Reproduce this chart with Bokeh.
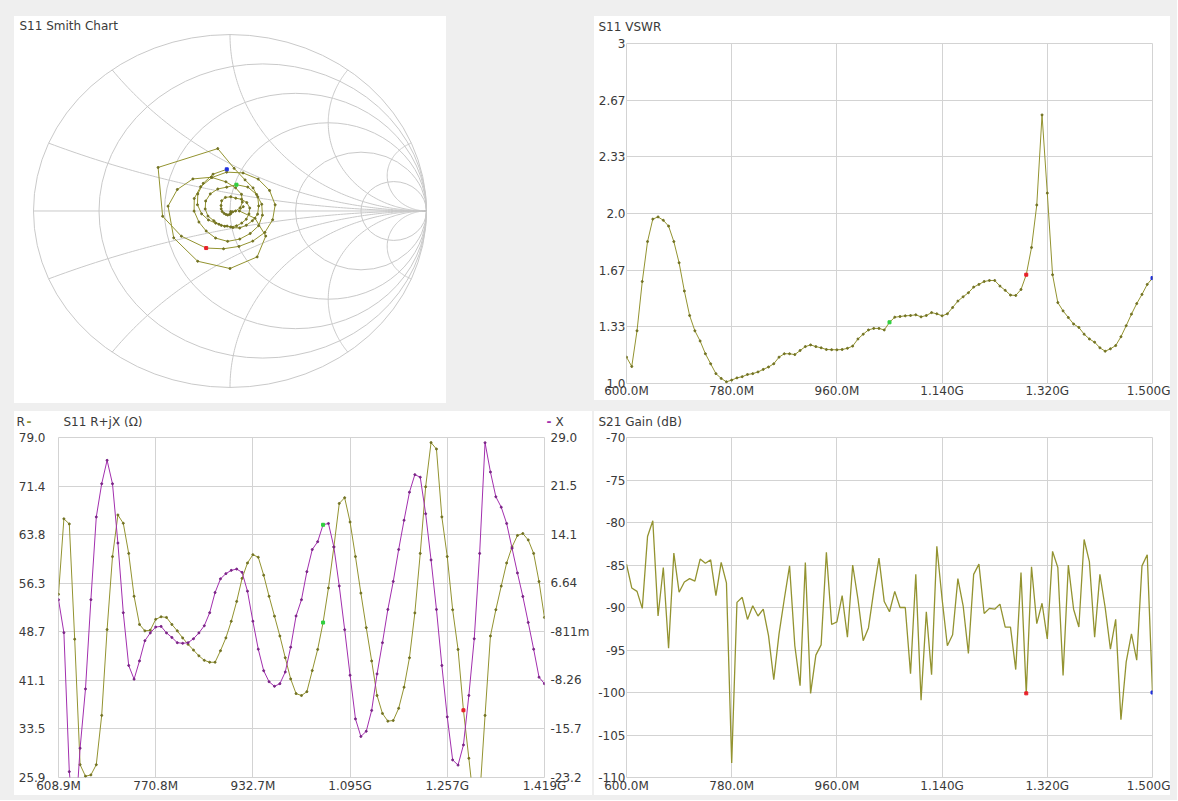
import numpy as np
from bokeh.plotting import figure
from bokeh.models import Range1d, LinearAxis, FixedTicker, Label, Spacer
from bokeh.layouts import row, column
from bokeh.embed import file_html
from bokeh.resources import INLINE

FONT = "DejaVu Sans"
TXT = "#3a3a3a"
GRID = "#d3d3d3"
SMITH_GRID = "#c9c9c9"
OLIVE = "#939330"
OLIVE_DOT = "#727222"
PURPLE = "#a22fae"
PURPLE_DOT = "#7a2486"
BG = "#efefef"
MARK_COLORS = {"red": "#e8202a", "green": "#30d040", "blue": "#2030e0"}

# ---------------- data ----------------
SWEEP_START_MHZ = 600.0
SWEEP_STEP_MHZ = 9.0

VSWR = [1.155, 1.10, 1.31, 1.60, 1.835, 1.967, 1.98, 1.96, 1.926, 1.835,
        1.71, 1.544, 1.40, 1.31, 1.25, 1.175, 1.116, 1.058, 1.03, 1.01,
        1.02, 1.033, 1.04, 1.053, 1.058, 1.068, 1.083, 1.097, 1.116, 1.155,
        1.175, 1.175, 1.17, 1.194, 1.217, 1.227, 1.217, 1.21, 1.20, 1.199,
        1.198, 1.20, 1.207, 1.22, 1.262, 1.29, 1.315, 1.324, 1.324, 1.315,
        1.36, 1.39, 1.394, 1.398, 1.40, 1.404, 1.392, 1.40, 1.417, 1.41,
        1.398, 1.41, 1.447, 1.485, 1.51, 1.534, 1.567, 1.583, 1.60, 1.606,
        1.606, 1.573, 1.548, 1.52, 1.518, 1.553, 1.64, 1.80, 2.05, 2.58,
        2.12, 1.64, 1.476, 1.427, 1.388, 1.35, 1.33, 1.29, 1.262, 1.243,
        1.21, 1.19, 1.204, 1.223, 1.275, 1.34, 1.408, 1.47, 1.524, 1.583,
        1.62]

S11_PHASE_DEG = [20, 0, -18, -38, -62, -90, -120, -152, 175,
                 155.5, 136.1, 116.6, 97.2, 77.7, 58.2, 38.8, 19.3, -0.1, -19.6,
                 -39.1, -58.5, -78, -97.5, -116.9, -136.4, -155.8, -175.3, 165.2, 145.8,
                 126.3, 106.8, 87.4, 67.9, 48.5, 29, 9.5, -9.9, -29.4, -48.8,
                 -68.3, -87.8, -107.2, -126.7, -146.2, -165.6, 174.9, 155.5, 136, 116.5,
                 97.1, 77.6,
                 56.2, 34.7, 13.3, -8.2, -29.7, -51.1, -72.6, -94, -115.5, -136.9,
                 -158.4, -179.8, 158.7, 137.3, 115.8, 94.4, 72.9, 51.5, 30, 8.6,
                 -12.9, -34.3, -55.8, -77.2, -98.7, -120,
                 -150, -175, 146, 100, 85,
                 66.5, 48.1, 29.6, 11.1, -7.4, -25.8, -44.3, -62.8, -81.2, -99.7,
                 -118.2, -136.6, -155.1, -173.6, 167.9, 149.5, 131, 112.5, 94]

S21_DB = [-84.9, -87.7, -88.1, -90.1, -81.65, -79.8, -91.0, -85.3, -94.8, -83.6,
          -88.2, -87.0, -86.6, -86.9, -84.3, -84.8, -84.4, -88.6, -84.7, -87.1,
          -108.3, -89.4, -88.8, -91.4, -89.8, -91.0, -90.2, -93.3, -98.5, -93.1,
          -89.0, -85.1, -94.5, -99.2, -84.7, -100.1, -95.6, -94.4, -83.5, -92.0,
          -91.7, -88.6, -93.5, -85.0, -89.0, -93.9, -92.4, -88.1, -84.2, -89.3,
          -90.5, -88.1, -90.0, -90.0, -97.8, -86.1, -100.9, -90.5, -97.9, -82.8,
          -89.0, -94.5, -93.2, -86.6, -89.8, -95.4, -86.1, -84.9, -90.7, -90.1,
          -90.2, -89.6, -92.3, -92.3, -97.3, -85.9, -100.1, -85.2, -91.9, -89.5,
          -93.7, -83.4, -85.3, -98.0, -85.0, -90.2, -92.3, -82.0, -84.6, -93.5,
          -86.1, -90.0, -94.9, -91.4, -103.2, -96.4, -93.1, -96.2, -85.1, -83.8,
          -100.0]

RJX_START_MHZ = 608.9
RJX_STEP_MHZ = 9.0
R_OHM = [54.5, 66.3, 65.5, 47.5, 27.9, 26.1, 26.3, 27.9, 35.6, 49.0,
         60.4, 66.9, 65.6, 60.9, 54.2, 49.8, 48.8, 48.9, 50.6, 51.0,
         50.9, 49.8, 48.8, 47.7, 46.7, 45.8, 44.9, 44.2, 43.9, 43.9,
         45.7, 47.7, 50.3, 53.4, 57.0, 59.4, 60.7, 60.3, 57.5, 54.2,
         51.1, 48.0, 44.6, 41.3, 39.0, 38.7, 39.3, 42.6, 45.9, 50.1,
         55.5, 61.9, 68.7, 69.6, 65.8, 60.4, 54.7, 49.3, 44.1, 38.7,
         35.9, 34.7, 34.8, 36.7, 40.0, 44.6, 51.6, 60.9, 71.3, 78.2,
         77.2, 66.6, 60.4, 52.1, 45.9, 36.4, 28.9, 21.2, 22.7, 35.6,
         48.0, 52.1, 55.8, 59.4, 61.9, 63.7, 64.0, 63.0, 60.9, 56.5,
         50.9]
X_OHM = [4.1, -0.96, -22.3, -31.4, -18.7, -9.6, 4.1, 16.8, 21.9, 25.5,
         21.9, 12.8, 2.1, -6.0, -8.1, -5.3, -2.2, -1.0, -0.1, 0.0,
         -1.0, -1.7, -2.5, -2.6, -2.5, -1.9, -1.0, 0.1, 2.1, 5.2,
         7.3, 8.1, 8.6, 8.8, 8.3, 5.4, 0.8, -3.5, -6.8, -8.5,
         -9.2, -8.8, -7.0, -3.2, 1.6, 4.1, 8.4, 11.8, 13.0, 15.6,
         15.8, 12.2, 6.2, -0.5, -7.5, -14.2, -16.9, -16.1, -12.9, -7.3,
         -2.5, 2.6, 6.9, 11.8, 16.3, 20.6, 23.3, 22.9, 17.3, 10.2,
         2.6, -6.0, -13.9, -20.5, -21.3, -18.2, -10.6, -1.9, 11.2, 28.2,
         23.7, 19.9, 18.3, 15.8, 12.0, 8.2, 4.6, 0.6, -3.5, -7.8,
         -8.8]

SWEEP_MARKERS = [("green", 50), ("red", 76), ("blue", 100)]
S21_MARKERS = [("red", 76), ("blue", 100)]
R_MARKERS = [("green", 49), ("red", 75)]
X_MARKERS = [("green", 49)]

SWEEP_TICKS = [600, 780, 960, 1140, 1320, 1500]
SWEEP_TICK_LABELS = ["600.0M", "780.0M", "960.0M", "1.140G", "1.320G", "1.500G"]
VSWR_TICKS = [1.0, 4 / 3, 5 / 3, 2.0, 7 / 3, 8 / 3, 3.0]
VSWR_TICK_LABELS = ["1.0", "1.33", "1.67", "2.0", "2.33", "2.67", "3"]
S21_TICKS = [-110, -105, -100, -95, -90, -85, -80, -75, -70]
S21_TICK_LABELS = ["-110", "-105", "-100", "-95", "-90", "-85", "-80", "-75", "-70"]
RJX_TICKS = [608.9, 770.92, 932.94, 1094.96, 1256.98, 1419.0]
RJX_TICK_LABELS = ["608.9M", "770.8M", "932.7M", "1.095G", "1.257G", "1.419G"]
R_TICKS = [25.9, 33.486, 41.071, 48.657, 56.243, 63.829, 71.414, 79.0]
R_TICK_LABELS = ["25.9", "33.5", "41.1", "48.7", "56.3", "63.8", "71.4", "79.0"]
X_TICKS = [-23.2, -15.743, -8.286, -0.829, 6.629, 14.086, 21.543, 29.0]
X_TICK_LABELS = ["-23.2", "-15.7", "-8.26", "-811m", "6.64", "14.1", "21.5", "29.0"]

SMITH_R = [0.0, 0.2, 0.5, 1.0, 2.0, 5.0]
SMITH_X = [0.2, 0.5, 1.0, 2.0, 5.0]


# ---------------- helpers ----------------
def style_axis(ax, standoff):
    ax.axis_line_color = None
    ax.major_tick_line_color = None
    ax.minor_tick_line_color = None
    ax.major_tick_out = 0
    ax.major_tick_in = 0
    ax.major_label_standoff = standoff
    ax.major_label_text_font = FONT
    ax.major_label_text_font_size = "12px"
    ax.major_label_text_color = TXT


def make_fig(w, h, xr, yr, ml, mr, mt, mb):
    p = figure(width=w, height=h, x_range=Range1d(*xr), y_range=Range1d(*yr),
               output_backend="svg", toolbar_location=None,
               min_border_left=ml, min_border_right=mr,
               min_border_top=mt, min_border_bottom=mb)
    p.background_fill_color = "white"
    p.border_fill_color = "white"
    p.outline_line_color = GRID
    p.xgrid.grid_line_color = GRID
    p.ygrid.grid_line_color = GRID
    return p


def bare_fig(w, h, xr, yr):
    p = figure(width=w, height=h, x_range=Range1d(*xr), y_range=Range1d(*yr),
               output_backend="svg", toolbar_location=None,
               x_axis_location=None, y_axis_location=None,
               min_border=0, min_border_left=0, min_border_right=0,
               min_border_top=0, min_border_bottom=0)
    p.grid.visible = False
    p.outline_line_color = None
    p.background_fill_color = "white"
    p.border_fill_color = "white"
    return p


def set_ticks(ax, ticks, labels):
    ax.ticker = FixedTicker(ticks=list(ticks))
    ax.major_label_overrides = {t: l for t, l in zip(ticks, labels)}


def add_text(p, x, y, text, color=TXT, weight="normal"):
    p.add_layout(Label(x=x, y=y, text=text,
                       text_font=FONT, text_font_size="12px", text_color=color,
                       text_font_style=weight,
                       text_align="left", text_baseline="middle"))


def add_markers(p, xs, ys, marks, **kw):
    for name, i in marks:
        p.scatter([xs[i]], [ys[i]], marker="square", size=3,
                  color=MARK_COLORS[name], **kw)


WHITE = {"overflow": "hidden", "background-color": "white"}


def wrap(fig, w, h):
    return column(fig, width=w, height=h, styles=WHITE)


def strip(w, h, items):
    """A white header strip (pixel data units) holding the panel's caption texts."""
    s = bare_fig(w, h, (0, w), (0, h))
    for x, text, color, weight in items:
        add_text(s, x, h - 10, text, color, weight)
    return wrap(s, w, h)


sweep_f = SWEEP_START_MHZ + SWEEP_STEP_MHZ * np.arange(len(VSWR))
s21_f = SWEEP_START_MHZ + SWEEP_STEP_MHZ * np.arange(len(S21_DB))
rjx_f = RJX_START_MHZ + RJX_STEP_MHZ * np.arange(len(R_OHM))

# ---------------- Smith chart ----------------
SX0, SX1, SY0, SY1 = -1.0967, 1.1018, -1.0907, 1.1020
ps = bare_fig(432, 387, (SX0, SX1), (SY0, SY1))
ps.ellipse(x=[r / (1 + r) for r in SMITH_R], y=[0.0] * len(SMITH_R),
           width=[2 / (1 + r) for r in SMITH_R], height=[2 / (1 + r) for r in SMITH_R],
           fill_color=None, line_color=SMITH_GRID, line_width=1)
rr = np.concatenate([np.linspace(0, 1, 60), np.geomspace(1.02, 3000, 180)])
arc_x, arc_y = [[-1.0, 1.0]], [[0.0, 0.0]]
for xv in SMITH_X:
    for sgn in (1, -1):
        z = rr + 1j * sgn * xv
        g = (z - 1) / (z + 1)
        arc_x.append(g.real.tolist())
        arc_y.append(g.imag.tolist())
ps.multi_line(arc_x, arc_y, line_color=SMITH_GRID, line_width=1)

v = np.array(VSWR)
mag = (v - 1) / (v + 1)
ph = np.deg2rad(np.array(S11_PHASE_DEG))
gx = mag * np.cos(ph)
gy = mag * np.sin(ph)
ps.line(gx, gy, line_color=OLIVE, line_width=1)
ps.scatter(gx, gy, size=2, color=OLIVE_DOT)
add_markers(ps, gx, gy, SWEEP_MARKERS)
add_text(ps, SX0 + 5 / 196.5, SY1 - 10 / 176.5, "S11 Smith Chart")

# ---------------- VSWR ----------------
p2 = make_fig(576, 364, (600, 1500), (1.0, 3.0), 32, 18, 7, 15)
set_ticks(p2.xaxis[0], SWEEP_TICKS, SWEEP_TICK_LABELS)
set_ticks(p2.yaxis[0], VSWR_TICKS, VSWR_TICK_LABELS)
style_axis(p2.xaxis[0], 0)
style_axis(p2.yaxis[0], 1)
p2.line(sweep_f, VSWR, line_color=OLIVE, line_width=1)
p2.scatter(sweep_f, VSWR, size=2, color=OLIVE_DOT)
add_markers(p2, sweep_f, VSWR, SWEEP_MARKERS)
vswr_panel = column(strip(576, 20, [(4, "S11 VSWR", TXT, "normal")]), wrap(p2, 576, 364),
                    styles={"background-color": "white"})

# ---------------- R + jX ----------------
RJX_W = 578
p3 = make_fig(RJX_W, 365, (RJX_TICKS[0], RJX_TICKS[-1]), (R_TICKS[0], R_TICKS[-1]),
              44, RJX_W - 44 - 489, 7, 16)
p3.extra_y_ranges = {"xr": Range1d(X_TICKS[0], X_TICKS[-1])}
ax_x = LinearAxis(y_range_name="xr")
p3.add_layout(ax_x, "right")
set_ticks(p3.xaxis[0], RJX_TICKS, RJX_TICK_LABELS)
set_ticks(p3.yaxis[0], R_TICKS, R_TICK_LABELS)
set_ticks(ax_x, X_TICKS, X_TICK_LABELS)
style_axis(p3.xaxis[0], 1)
style_axis(p3.yaxis[0], 13)
style_axis(ax_x, 6)
p3.line(rjx_f, R_OHM, line_color=OLIVE, line_width=1)
p3.scatter(rjx_f, R_OHM, size=2, color=OLIVE_DOT)
p3.line(rjx_f, X_OHM, line_color=PURPLE, line_width=1, y_range_name="xr")
p3.scatter(rjx_f, X_OHM, size=2, color=PURPLE_DOT, y_range_name="xr")
add_markers(p3, rjx_f, R_OHM, R_MARKERS)
add_markers(p3, rjx_f, X_OHM, X_MARKERS, y_range_name="xr")
rjx_panel = column(
    strip(RJX_W, 19, [(2, "R", TXT, "normal"), (12, "-", OLIVE, "bold"),
                      (49, "S11 R+jX (\u03a9)", TXT, "normal"),
                      (532, "-", PURPLE, "bold"), (541, "X", TXT, "normal")]),
    wrap(p3, RJX_W, 365), styles={"background-color": "white"})

# ---------------- S21 ----------------
p4 = make_fig(576, 365, (600, 1500), (-110, -70), 32, 18, 7, 16)
set_ticks(p4.xaxis[0], SWEEP_TICKS, SWEEP_TICK_LABELS)
set_ticks(p4.yaxis[0], S21_TICKS, S21_TICK_LABELS)
style_axis(p4.xaxis[0], 1)
style_axis(p4.yaxis[0], 1)
p4.line(s21_f, S21_DB, line_color=OLIVE, line_width=1.3)
add_markers(p4, s21_f, S21_DB, S21_MARKERS)
s21_panel = column(strip(576, 19, [(4, "S21 Gain (dB)", TXT, "normal")]), wrap(p4, 576, 365),
                   styles={"background-color": "white"})

# ---------------- layout ----------------
root = column(
    Spacer(width=1177, height=16),
    row(Spacer(width=14, height=387), wrap(ps, 432, 387), Spacer(width=148, height=387),
        vswr_panel, Spacer(width=7, height=387)),
    Spacer(width=1177, height=8),
    row(Spacer(width=14, height=384), rjx_panel, Spacer(width=594 - 14 - RJX_W, height=384),
        s21_panel, Spacer(width=7, height=384)),
    Spacer(width=1177, height=5),
    styles={"background-color": BG},
)

open("out.html", "w").write(file_html(root, INLINE, title="S-parameter plots"))
